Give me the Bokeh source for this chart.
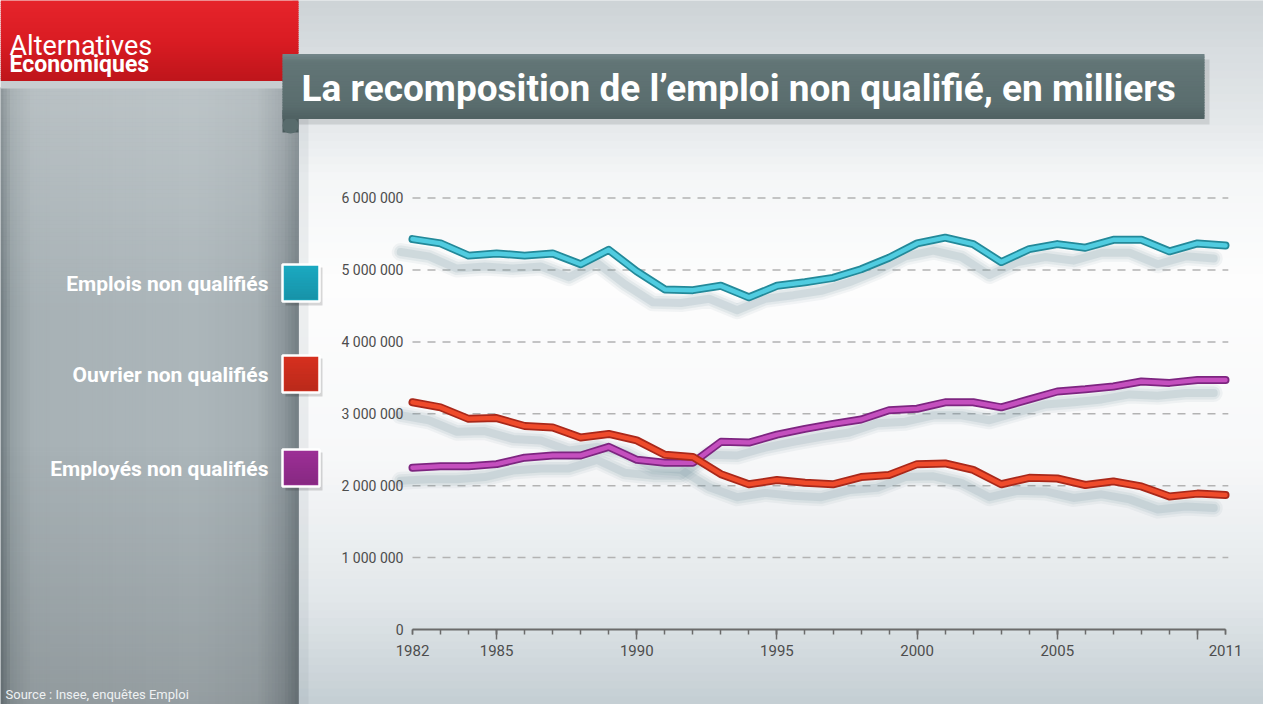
import numpy as np
from bokeh.plotting import figure
from bokeh.models import Range1d, FixedTicker, LinearAxis, ColumnDataSource
from bokeh.transform import dodge
from bokeh.core.properties import value
from bokeh.embed import file_html
from bokeh.resources import INLINE

# Emploi non qualifié (Insee, enquêtes Emploi)
years = list(range(1982, 2012))
emplois = [5430000, 5370000, 5200000, 5230000, 5200000, 5230000, 5080000, 5280000, 4980000, 4730000,
           4720000, 4780000, 4620000, 4780000, 4830000, 4890000, 5010000, 5170000, 5370000, 5450000,
           5360000, 5110000, 5290000, 5360000, 5310000, 5420000, 5420000, 5260000, 5370000, 5340000]
ouvriers = [3160000, 3090000, 2930000, 2940000, 2830000, 2810000, 2670000, 2720000, 2630000, 2430000,
            2400000, 2160000, 2020000, 2080000, 2040000, 2020000, 2120000, 2150000, 2300000, 2310000,
            2220000, 2020000, 2110000, 2100000, 2010000, 2060000, 1990000, 1850000, 1890000, 1870000]
employes = [2250000, 2270000, 2270000, 2300000, 2390000, 2420000, 2420000, 2540000, 2360000, 2320000,
            2320000, 2610000, 2600000, 2710000, 2790000, 2860000, 2920000, 3050000, 3070000, 3160000,
            3160000, 3090000, 3200000, 3310000, 3340000, 3380000, 3450000, 3430000, 3470000, 3470000]

series_names = ["Emplois non qualifiés", "Ouvrier non qualifiés", "Employés non qualifiés"]
series_inner = ["#50cce0", "#ef4b2b", "#c44fbe"]
series_outline = ["#238999", "#a9281a", "#7d2580"]
swatch_colors = ["#1ba8c0", "#d5301f", "#9b2f95"]

y_ticks = [0, 1000000, 2000000, 3000000, 4000000, 5000000, 6000000]
y_tick_labels = ["0", "1 000 000", "2 000 000", "3 000 000", "4 000 000", "5 000 000", "6 000 000"]
x_label_years = [1982, 1985, 1990, 1995, 2000, 2005, 2011]
x_long_ticks = [1985, 1990, 1995, 2000, 2005, 2010]

W, H = 1263, 704
# where the plot sits on the page (page pixels, 8px margin included)
X0_PX, X1_PX = 420, 1233      # first and last year
Y0_PX, PX_PER_M = 637, 71.9   # zero line, pixels per million

px_per_year = (X1_PX - X0_PX) / (years[-1] - years[0])
x_start = years[0] - (X0_PX - 8) / px_per_year
x_end = years[0] + (8 + W - X0_PX) / px_per_year
y_start = -(8 + H - Y0_PX) / PX_PER_M * 1e6
y_end = (Y0_PX - 8) / PX_PER_M * 1e6

p = figure(width=W, height=H, x_range=Range1d(x_start, x_end), y_range=Range1d(y_start, y_end),
           output_backend="svg", toolbar_location=None, tools="", min_border=0,
           outline_line_color=None, background_fill_color="#e9edef", border_fill_color="#e9edef")
p.extra_x_ranges = {"px": Range1d(8, 8 + W)}
p.extra_y_ranges = {"py": Range1d(8 + H, 8)}
p.grid.visible = False

PX = dict(x_range_name="px", y_range_name="py")


def hex_rgb(h):
    h = h.lstrip("#")
    return np.array([int(h[i:i + 2], 16) for i in (0, 2, 4)], dtype=float)


def mix(stops, t):
    for (t0, c0), (t1, c1) in zip(stops[:-1], stops[1:]):
        if t <= t1:
            f = 0 if t1 == t0 else (t - t0) / (t1 - t0)
            c = hex_rgb(c0) * (1 - f) + hex_rgb(c1) * f
            return "#%02x%02x%02x" % tuple(int(round(v)) for v in c)
    return stops[-1][1]


def grad(x0, x1, y0, y1, stops, n=90, vertical=True):
    cols = [mix(stops, (i + 0.5) / n) for i in range(n)]
    if vertical:
        e = np.linspace(y0, y1, n + 1)
        p.quad(left=[x0] * n, right=[x1] * n, top=list(e[:-1] - 0.4), bottom=list(e[1:] + 0.4),
               fill_color=cols, line_color=None, **PX)
    else:
        e = np.linspace(x0, x1, n + 1)
        p.quad(left=list(e[:-1] - 0.4), right=list(e[1:] + 0.4), top=[y0] * n, bottom=[y1] * n,
               fill_color=cols, line_color=None, **PX)


def fade(x0, x1, y0, y1, color, a0, a1, n=60):
    e = np.linspace(y0, y1, n + 1)
    alphas = list(np.linspace(a0, a1, n))
    p.quad(left=[x0] * n, right=[x1] * n, top=list(e[:-1]), bottom=list(e[1:]),
           fill_color=color, fill_alpha=alphas, line_color=None, **PX)


# background of the chart area
grad(300, 8 + W, 8, 8 + H, [(0, "#cdd3d6"), (0.075, "#d8dde0"), (0.165, "#e3e7e9"), (0.25, "#f4f6f7"),
                            (0.4, "#fdfdfd"), (0.65, "#f7f8f9"), (0.85, "#e2e7ea"), (1, "#c4ced3")])

# left panel
grad(8, 306, 95, 8 + H, [(0, "#6f7a7f"), (0.04, "#96a1a5"), (0.11, "#a7b1b5"), (0.65, "#acb6ba"),
                         (0.86, "#a5afb3"), (0.95, "#8d979c"), (1, "#737e83")], vertical=False)
fade(8, 306, 95, 330, "#ffffff", 0.2, 0.0)
fade(8, 306, 450, 8 + H, "#000000", 0.0, 0.13)
p.quad(left=[306], right=[316], top=[95], bottom=[8 + H], fill_color="#7a8a92", fill_alpha=0.12,
       line_color=None, **PX)

# header with the logo
p.quad(left=[8], right=[306], top=[84], bottom=[96], fill_color="#c7cdd0", line_color=None, **PX)
grad(8, 306, 8, 88, [(0, "#e6242b"), (0.5, "#da1c23"), (1, "#bf151b")], n=40)
p.text(x=[17], y=[53], text=["Alternatives"], text_font=value("Roboto"), text_font_size="27px",
       text_color="white", text_baseline="alphabetic", **PX)
p.text(x=[17], y=[72], text=["Economiques"], text_font=value("Roboto"), text_font_style="bold",
       text_font_size="23px", text_color="white", text_baseline="alphabetic", **PX)

# title banner
p.quad(left=[294], right=[1217], top=[67], bottom=[132], fill_color="#000000", fill_alpha=0.1,
       line_color=None, **PX)
p.quad(left=[290], right=[306], top=[118], bottom=[140], fill_color="#4a5b5c", line_color=None, **PX)
p.ellipse(x=[298], y=[133], width=16, height=16, fill_color="#586b6c", line_color=None, **PX)
grad(290, 1212, 62, 126, [(0, "#74878a"), (0.12, "#627576"), (0.8, "#5a6d6e"), (1, "#4f6162")], n=40)
p.text(x=[309], y=[96], text=["La recomposition de l’emploi non qualifié, en milliers"],
       text_font=value("Roboto"), text_font_style="bold", text_font_size="37px",
       text_color="white", text_baseline="middle", **PX)

# dashed grid lines
n_grid = len(y_ticks) - 1
p.segment(x0=[years[0]] * n_grid, x1=[years[-1] + 0.1] * n_grid, y0=y_ticks[1:], y1=y_ticks[1:],
          line_color="#b3b3b3", line_width=1.5, line_dash="8 7")

# series, with their soft shadow
sources = [ColumnDataSource(dict(x=years, y=v)) for v in (emplois, ouvriers, employes)]
for src in sources:
    for w, a in ((18, 0.08), (13, 0.11), (8, 0.16)):
        p.line(x=dodge("x", -0.42), y=dodge("y", -180000), source=src, line_color="#6f8e9c",
               line_alpha=a, line_width=w, line_join="round", line_cap="round")
for i in (0, 2, 1):
    p.line(x="x", y="y", source=sources[i], line_color=series_outline[i], line_width=8,
           line_join="round", line_cap="round")
    p.line(x="x", y="y", source=sources[i], line_color=series_inner[i], line_width=4.5,
           line_join="round", line_cap="round")

# legend on the left panel
leg_y = [291, 382, 476]
p.quad(left=[293] * 3, right=[330] * 3, top=[y - 16 for y in leg_y], bottom=[y + 22 for y in leg_y],
       fill_color="#000000", fill_alpha=0.15, line_color=None, **PX)
p.quad(left=[290] * 3, right=[327] * 3, top=[y - 19 for y in leg_y], bottom=[y + 18 for y in leg_y],
       fill_color=swatch_colors, line_color="white", line_width=2.5, **PX)
for y in leg_y:
    fade(292, 325, y - 17, y + 16, "#000000", 0.0, 0.12, n=12)
p.text(x=[276] * 3, y=leg_y, text=series_names, text_font=value("Roboto"), text_font_style="bold",
       text_font_size="21px", text_color="white", text_align="right", text_baseline="middle", **PX)

p.text(x=[13], y=[702], text=["Source : Insee, enquêtes Emploi"], text_font=value("Roboto"),
       text_font_size="13px", text_color="#eef1f2", text_baseline="middle", **PX)

# axes drawn inside the chart area
xa = p.xaxis[0]
xa.fixed_location = 0
xa.ticker = FixedTicker(ticks=x_label_years, minor_ticks=years)
xa.bounds = (years[0], years[-1])
xa.axis_line_color = "#6b6b6b"
xa.axis_line_width = 2
xa.major_tick_out = 5
xa.major_tick_in = 0
xa.minor_tick_out = 5
xa.minor_tick_in = 0
xa.major_tick_line_color = "#6b6b6b"
xa.minor_tick_line_color = "#6b6b6b"
xa.major_tick_line_width = 1.5
xa.minor_tick_line_width = 1.5
xa.major_label_standoff = 10
xa.major_label_text_font = "Roboto"
xa.major_label_text_font_size = "15px"
xa.major_label_text_color = "#4d4d4d"

xl = LinearAxis(fixed_location=0, ticker=FixedTicker(ticks=x_long_ticks, minor_ticks=[]),
                bounds=(years[0], years[-1]), axis_line_color=None, major_tick_out=10, major_tick_in=0,
                major_tick_line_color="#6b6b6b", major_tick_line_width=1.5, minor_tick_line_color=None,
                major_label_overrides={t: "" for t in x_long_ticks})
p.add_layout(xl, "below")

ya = p.yaxis[0]
ya.fixed_location = years[0]
ya.ticker = FixedTicker(ticks=y_ticks, minor_ticks=[])
ya.major_label_overrides = dict(zip(y_ticks, y_tick_labels))
ya.bounds = (0, y_ticks[-1])
ya.axis_line_color = None
ya.major_tick_line_color = None
ya.minor_tick_line_color = None
ya.major_tick_out = 0
ya.major_label_standoff = 9
ya.major_label_text_font = "Roboto"
ya.major_label_text_font_size = "14px"
ya.major_label_text_color = "#4d4d4d"

open("out.html", "w").write(file_html(p, INLINE))
